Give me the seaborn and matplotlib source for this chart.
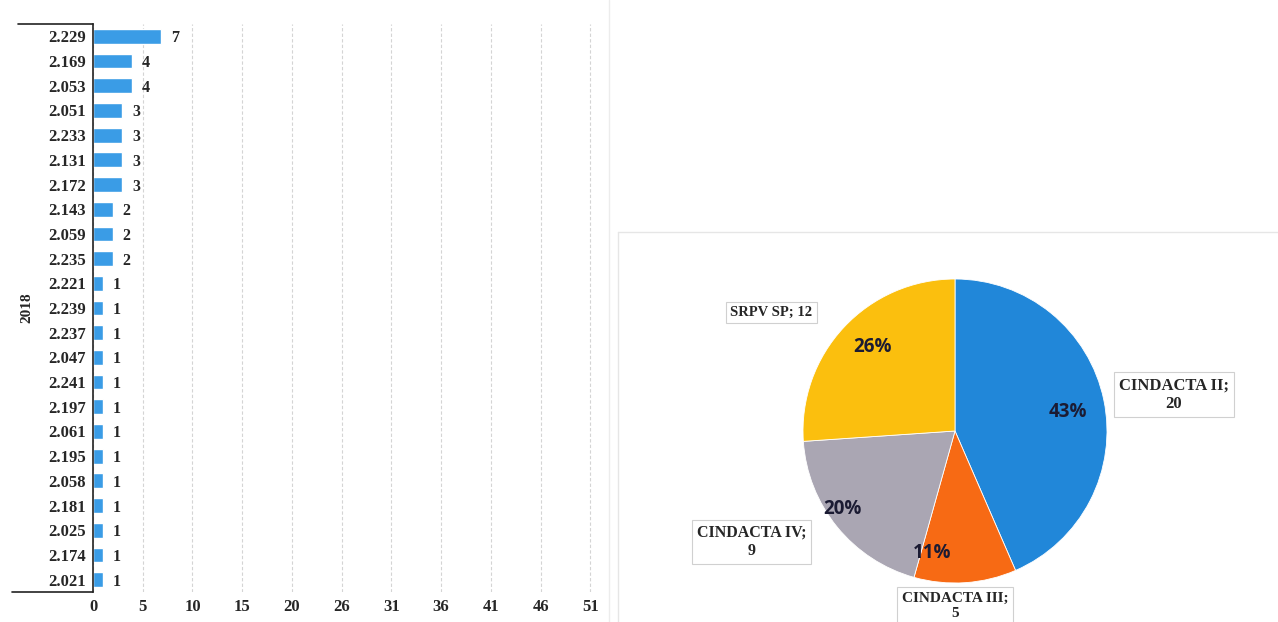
import matplotlib
matplotlib.use("Agg")
import matplotlib.pyplot as plt
import seaborn as sns
import pandas as pd

# ---- data ----
categories = ["2.229", "2.169", "2.053", "2.051", "2.233", "2.131", "2.172",
              "2.143", "2.059", "2.235", "2.221", "2.239", "2.237", "2.047",
              "2.241", "2.197", "2.061", "2.195", "2.058", "2.181", "2.025",
              "2.174", "2.021"]
values = [7, 4, 4, 3, 3, 3, 3, 2, 2, 2, 1, 1, 1, 1, 1, 1, 1, 1, 1, 1, 1, 1, 1]
group_label = "2018"
x_ticks = [0, 5.1, 10.2, 15.3, 20.4, 25.5, 30.6, 35.7, 40.8, 45.9, 51.0]
x_tick_labels = ["0", "5", "10", "15", "20", "26", "31", "36", "41", "46", "51"]

pie_labels = ["CINDACTA II", "CINDACTA III", "CINDACTA IV", "SRPV SP"]
pie_values = [20, 5, 9, 12]

bar_color = "#3a9ce6"
pie_colors = ["#2187d9", "#f76a14", "#aaa6b3", "#fbbf0e"]

sns.set_style("white")
serif = ["Liberation Serif", "DejaVu Serif"]

fig = plt.figure(figsize=(12.78, 6.22), dpi=100)

# ---- left: horizontal bar chart ----
n = len(categories)
top_px, bot_px = 24, 592
ax = fig.add_axes([93 / 1278, (622 - bot_px) / 622, 512 / 1278, (bot_px - top_px) / 622])
df = pd.DataFrame({"cat": categories, "val": values})
sns.barplot(data=df, y="cat", x="val", orient="h", color=bar_color,
            saturation=1, width=0.6, ax=ax, order=categories)
ax.set_xlim(0, 52.5)
ax.set_ylim(n - 0.5, -0.5)
ax.set_xticks(x_ticks)
ax.set_xticklabels(x_tick_labels, fontfamily=serif, fontweight="bold", fontsize=12)
ax.set_yticks(range(n))
ax.set_yticklabels(categories, fontfamily=serif, fontweight="bold", fontsize=12)
ax.tick_params(axis="y", length=0, pad=5)
ax.tick_params(axis="x", length=0, pad=5)
ax.set_xlabel("")
ax.set_ylabel("")
ax.xaxis.grid(True, color="#d4d4d4", linewidth=0.8, linestyle=(0, (3, 2)))
ax.set_axisbelow(True)
for s in ["top", "right", "bottom"]:
    ax.spines[s].set_visible(False)
ax.spines["left"].set_color("#222222")
ax.spines["left"].set_linewidth(1.2)
labels = ax.bar_label(ax.containers[0], padding=7, fontfamily=serif,
                      fontweight="bold", fontsize=11.5)
for t in labels:
    t.set_va("center_baseline")

# multi-level category brackets
ax.plot([-75 / 512, 0], [1.0, 1.0], transform=ax.transAxes, color="#222222",
        lw=1.2, clip_on=False)
ax.plot([-81 / 512, 0], [0.0, 0.0], transform=ax.transAxes, color="#222222",
        lw=1.2, clip_on=False)
ax.text(-66 / 512, 0.5, group_label, transform=ax.transAxes, rotation=90,
        ha="center", va="center", fontfamily=serif, fontweight="bold", fontsize=11)

# faint chart frames
fig.add_artist(plt.Line2D([609 / 1278, 609 / 1278], [0, 1], color="#ececec", lw=1))
fig.add_artist(plt.Line2D([618 / 1278, 1], [(622 - 232) / 622] * 2, color="#e6e6e6", lw=1))
fig.add_artist(plt.Line2D([618 / 1278, 618 / 1278], [0, (622 - 232) / 622], color="#e6e6e6", lw=1))

# ---- right: pie chart ----
cx, cy, r = 955, 431, 152
pax = fig.add_axes([(cx - r) / 1278, (622 - cy - r) / 622, 2 * r / 1278, 2 * r / 622])
wedges, texts, autotexts = pax.pie(
    pie_values, colors=pie_colors, startangle=90, counterclock=False,
    autopct=lambda p: f"{p:.0f}%", pctdistance=0.78,
    wedgeprops=dict(linewidth=0.6, edgecolor="white"),
    textprops=dict(fontfamily=["Open Sans", "DejaVu Sans"], fontweight="bold",
                   fontsize=13.5, color="#1b1b33"))
pax.set_xlim(-1, 1)
pax.set_ylim(-1, 1)
pax.set_aspect("auto")
pax.axis("off")

pct_pos = [(0.74, 0.125), (-0.15, -0.80), (-0.74, -0.51), (-0.54, 0.55)]
for t, (px, py) in zip(autotexts, pct_pos):
    t.set_position((px, py))

label_pos = [(1.44, 0.24), (0.0, -1.15), (-1.34, -0.73), (-1.21, 0.78)]
label_size = [12, 11, 11.5, 10.5]
for lab, v, (lx, ly), fs in zip(pie_labels, pie_values, label_pos, label_size):
    txt = f"{lab}; {v}" if lab == "SRPV SP" else f"{lab};\n{v}"
    pax.text(lx, ly, txt, ha="center", va="center", fontfamily=serif,
             fontweight="bold", fontsize=fs, clip_on=False, linespacing=1.2,
             bbox=dict(boxstyle="square,pad=0.3", facecolor="white",
                       edgecolor="#d0d0d0", linewidth=0.8))

fig.savefig("out.png", dpi=100)
